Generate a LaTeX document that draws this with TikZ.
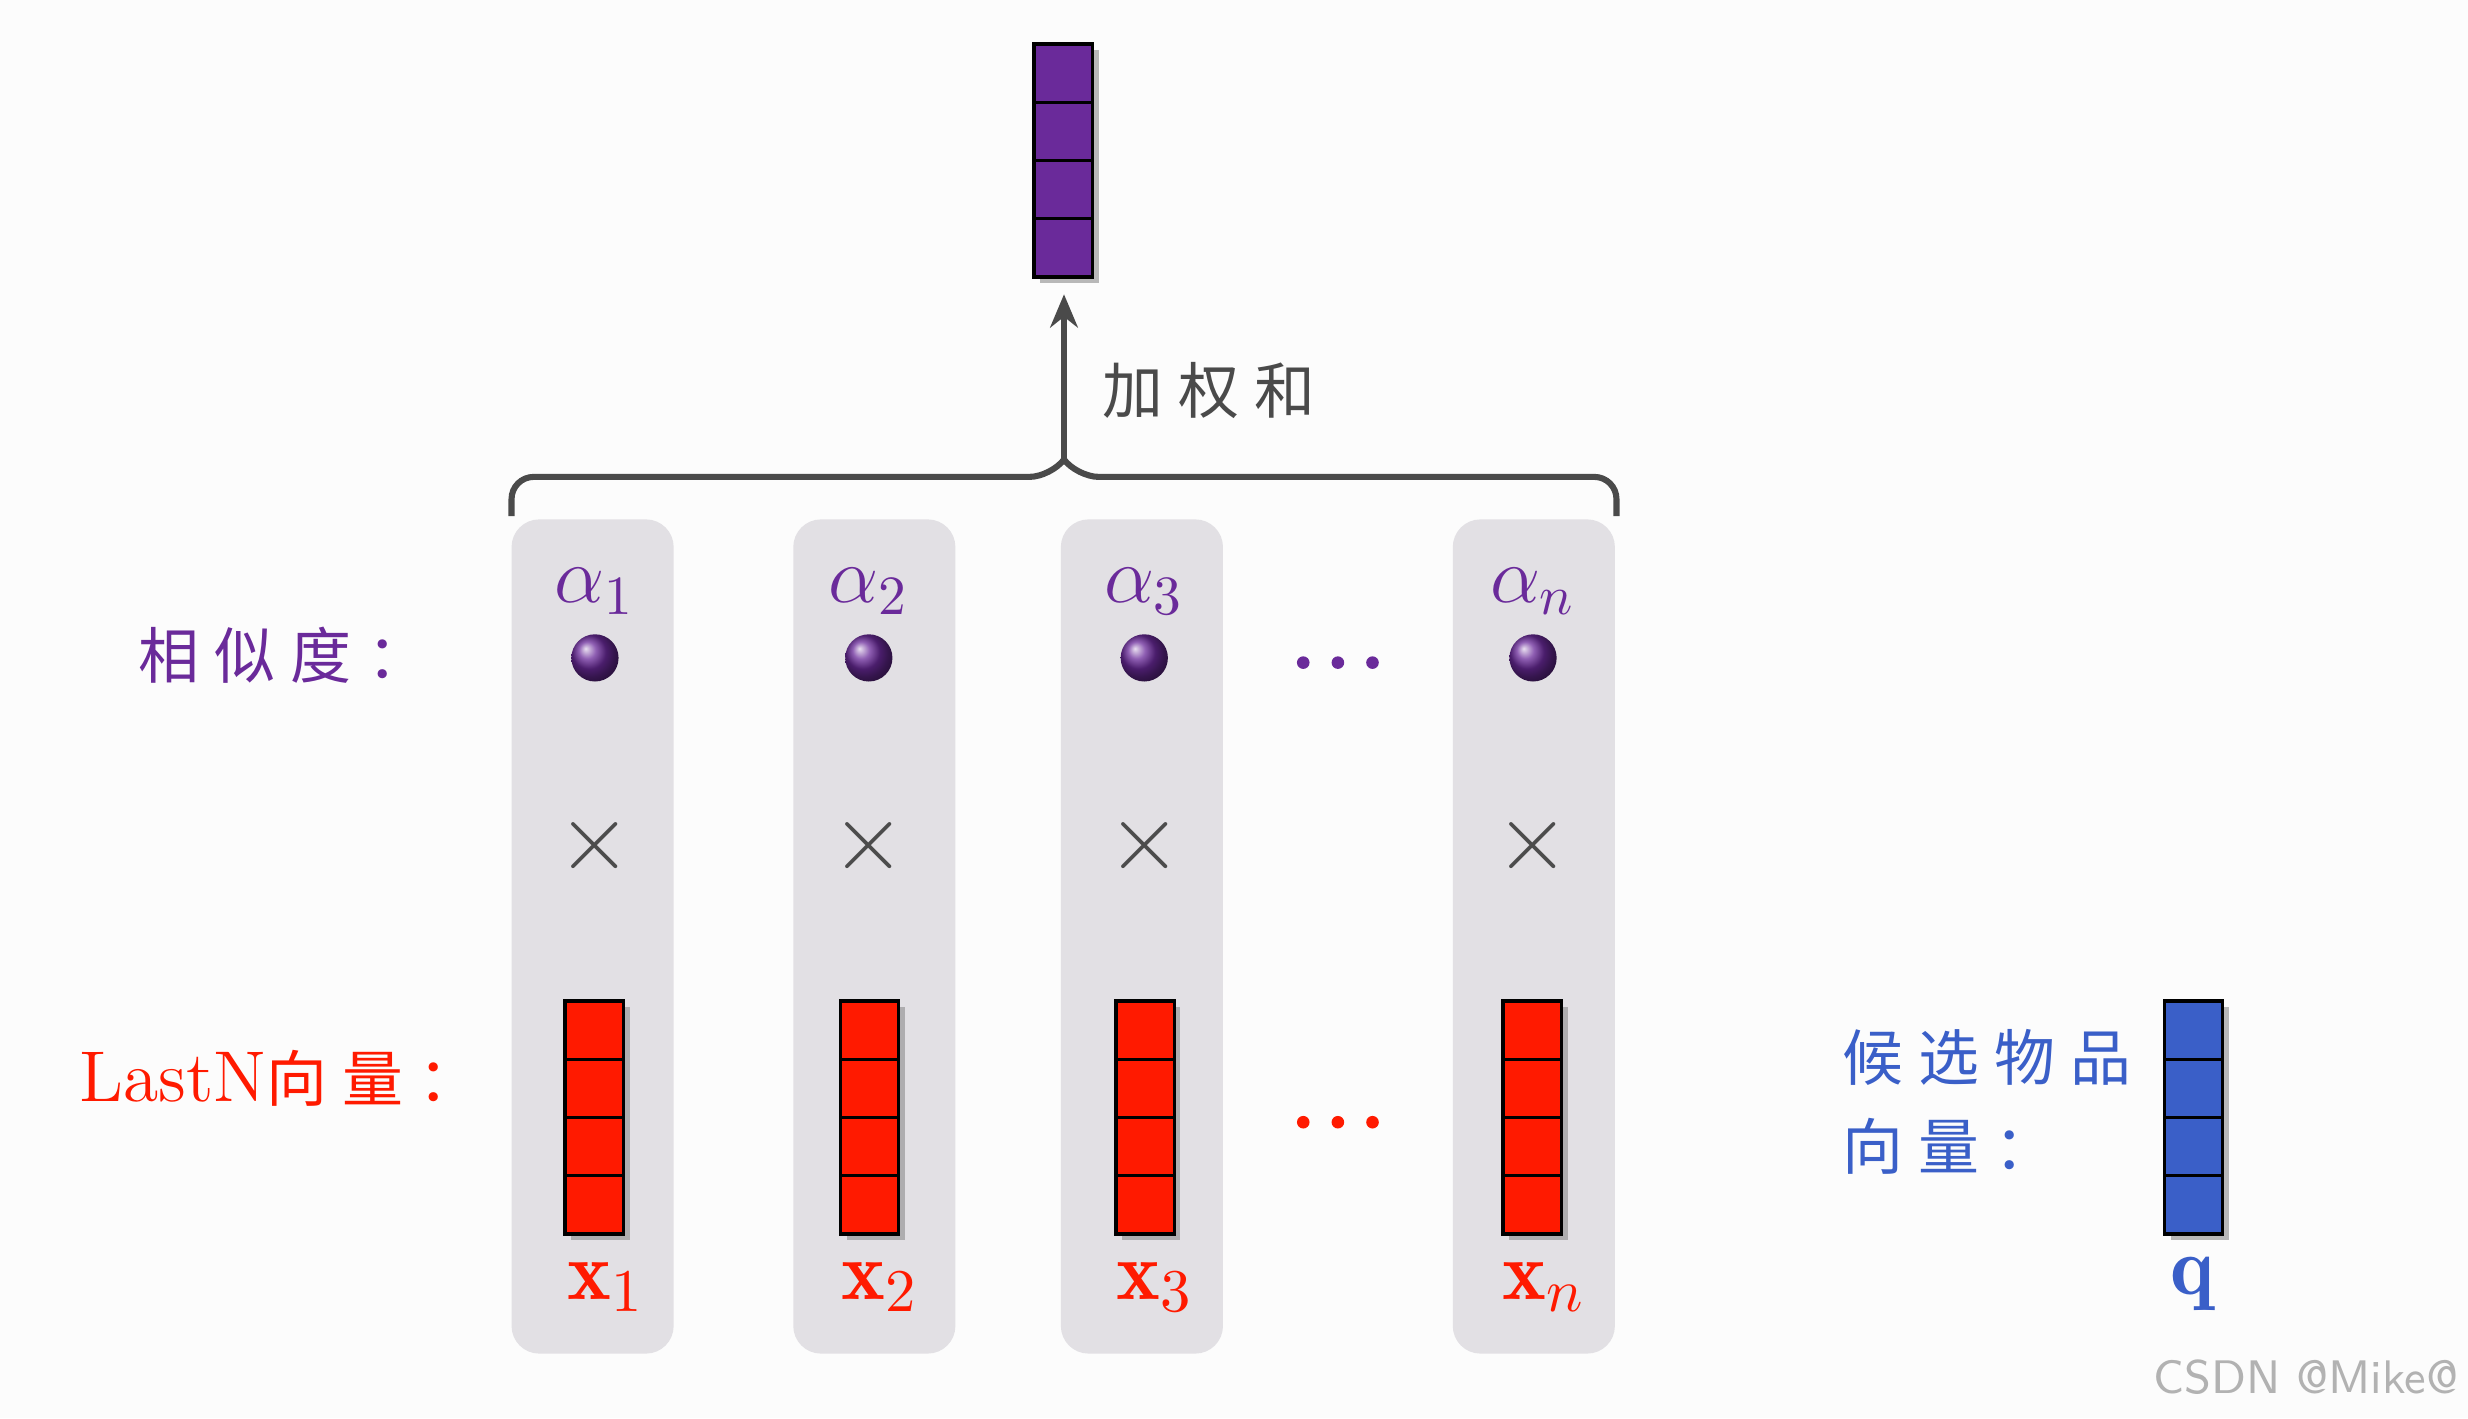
\documentclass[tikz,border=0pt]{standalone}
\usepackage{fontspec}
\usepackage{amsmath}
\newfontfamily\cjk{Noto Sans CJK SC}
\usetikzlibrary{shadows,arrows.meta}
\definecolor{pur}{HTML}{6A2A9A}
\definecolor{vred}{HTML}{FF1A00}
\definecolor{vblue}{HTML}{3A5FC8}
\definecolor{colg}{HTML}{E2E0E4}
\definecolor{brc}{HTML}{4A4A4A}
\begin{document}
\begin{tikzpicture}[x=0.01cm,y=-0.01cm,
  colbox/.style={fill=colg,rounded corners=5pt,draw=none},
  lab/.style={font=\cjk\fontsize{11}{12}\selectfont}]
\fill[white!98!gray] (0,0) rectangle (1568,901);
\useasboundingbox (0,0) rectangle (1568,901);
\newcommand\vecbox[3]{%
  \fill[black!45,opacity=0.6] (#1+4,#2+4) rectangle (#1+41,#2+152);
  \foreach \k in {0,1,2,3}{\draw[fill=#3,line width=0.6pt] (#1,#2+37*\k) rectangle (#1+37,#2+37*\k+37);}
}
\newcommand\gapsp{\hspace{0.25em}}
% columns
\foreach \xa in {325,504,674,923}{\fill[colbox] (\xa,330) rectangle (\xa+103,860);}
% brace
\draw[brc,line width=1.1pt,rounded corners=4pt] (325,328) -- (325,303) -- (668,303) -- (676,292);
\draw[brc,line width=1.1pt,rounded corners=4pt] (1027,328) -- (1027,303) -- (684,303) -- (676,292);
\coordinate (bt) at (676,294);
% top vector
\vecbox{657}{28}{pur}
\coordinate (vt) at (676,187);
\draw[brc,line width=1.1pt,-{Stealth[length=6pt,width=5pt]}] (bt) -- (vt);
\node[lab,text=brc,anchor=west] (w) at (688,248) {加\gapsp 权\gapsp 和};
% columns content
\foreach \cx/\i/\xl in {378/1/359,552/2/534,727/3/709,974/n/955}{
  \node[text=pur,font=\fontsize{14}{14}\selectfont] at (\cx,376) {$\alpha_{\i}$};
  \shade[ball color=pur] (\cx,418) circle (15);
  \node[text=black!70,font=\fontsize{16}{16}\selectfont] at (\cx,537) {$\times$};
  \vecbox{\xl}{636}{vred}
  \node[text=vred,font=\fontsize{15}{15}\selectfont] at (\cx+7,818) {$\mathbf{x}_{\i}$};
}
\foreach \dx in {-22,0,22}{\fill[pur] (850+\dx,421) circle (4); \fill[vred] (850+\dx,713) circle (4);}
\node[lab,text=pur] (s) at (180,416) {相\gapsp 似\gapsp 度\gapsp ：};
\node[text=vred,font=\fontsize{13}{14}\selectfont,anchor=west] (l) at (38,685) {LastN{\cjk\fontsize{11}{12}\selectfont 向\gapsp 量\gapsp ：}};
\node[lab,text=vblue,anchor=west] (c1) at (1158,672) {候\gapsp 选\gapsp 物\gapsp 品};
\node[lab,text=vblue,anchor=west] (c2) at (1158,728) {向\gapsp 量\gapsp ：};
\vecbox{1375}{636}{vblue}
\node[text=vblue,font=\fontsize{15}{15}\selectfont] at (1393,816) {$\mathbf{q}$};
\node[text=black!30,font=\sffamily\fontsize{8.5}{9}\selectfont] at (1465,875) {CSDN @Mike@};
\end{tikzpicture}
\end{document}
